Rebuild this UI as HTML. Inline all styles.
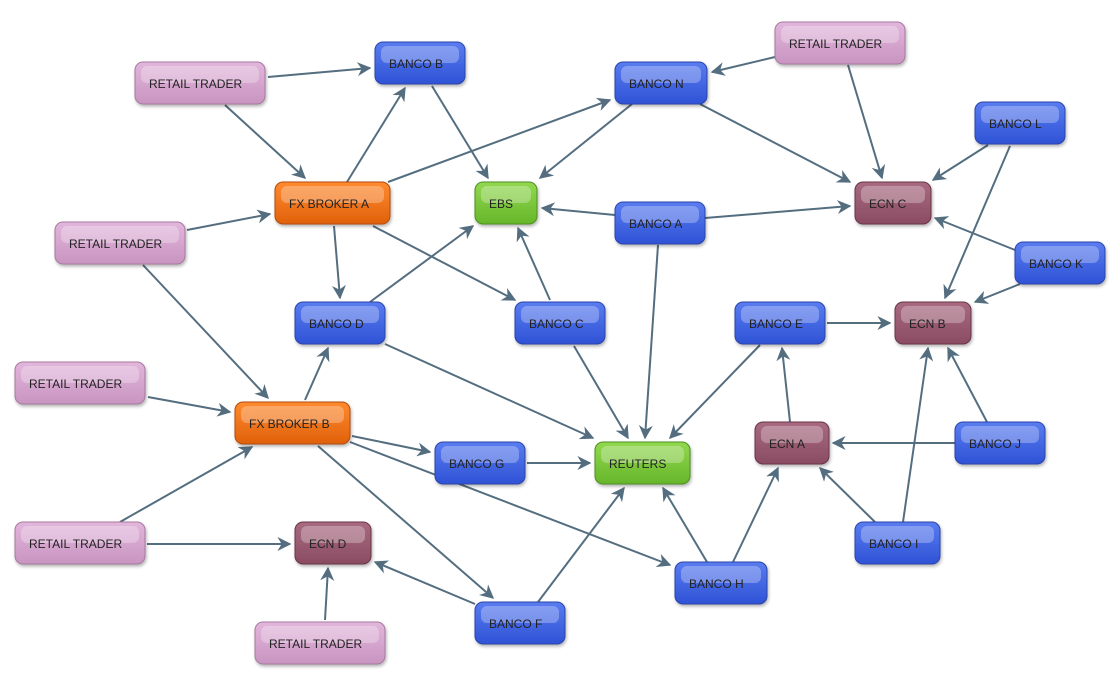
<!DOCTYPE html>
<html><head><meta charset="utf-8"><style>
html,body{margin:0;padding:0;background:#fff;}
svg{display:block;}
text{font-family:"Liberation Sans",sans-serif;font-size:12px;fill:#222;}
</style></head><body>
<svg width="1117" height="675" viewBox="0 0 1117 675" xmlns="http://www.w3.org/2000/svg">
<defs>
<linearGradient id="gb" x1="0" y1="0" x2="0" y2="1"><stop offset="0" stop-color="#5a7cf0"/><stop offset="1" stop-color="#2f52d6"/></linearGradient>
<linearGradient id="go" x1="0" y1="0" x2="0" y2="1"><stop offset="0" stop-color="#ff8a30"/><stop offset="1" stop-color="#e0600a"/></linearGradient>
<linearGradient id="gg" x1="0" y1="0" x2="0" y2="1"><stop offset="0" stop-color="#92d850"/><stop offset="1" stop-color="#66b62a"/></linearGradient>
<linearGradient id="gp" x1="0" y1="0" x2="0" y2="1"><stop offset="0" stop-color="#e2b6dc"/><stop offset="1" stop-color="#c894c0"/></linearGradient>
<linearGradient id="gm" x1="0" y1="0" x2="0" y2="1"><stop offset="0" stop-color="#a86a80"/><stop offset="1" stop-color="#8a4c62"/></linearGradient>
<marker id="ar" viewBox="0 0 10 10" refX="9" refY="5" markerWidth="7" markerHeight="7" orient="auto"><path d="M0,0 L10,5 L0,10 L3,5 z" fill="#546e80"/></marker>
<filter id="sh" x="-10%" y="-10%" width="130%" height="140%"><feDropShadow dx="1" dy="2" stdDeviation="1.5" flood-color="#000" flood-opacity="0.3"/></filter>
</defs>
<g stroke="#546e80" stroke-width="2" fill="none" marker-end="url(#ar)">
<line x1="268" y1="77" x2="370" y2="68"/>
<line x1="225" y1="105" x2="305" y2="178"/>
<line x1="347" y1="182" x2="405" y2="88"/>
<line x1="388" y1="182" x2="610" y2="100"/>
<line x1="432" y1="86" x2="488" y2="178"/>
<line x1="632" y1="104" x2="540" y2="178"/>
<line x1="700" y1="104" x2="850" y2="182"/>
<line x1="775" y1="57" x2="712" y2="72"/>
<line x1="848" y1="65" x2="882" y2="178"/>
<line x1="988" y1="145" x2="933" y2="180"/>
<line x1="1010" y1="146" x2="945" y2="298"/>
<line x1="615" y1="215" x2="542" y2="208"/>
<line x1="705" y1="218" x2="850" y2="206"/>
<line x1="658" y1="245" x2="645" y2="438"/>
<line x1="187" y1="230" x2="270" y2="214"/>
<line x1="143" y1="265" x2="268" y2="398"/>
<line x1="334" y1="226" x2="340" y2="298"/>
<line x1="373" y1="226" x2="515" y2="300"/>
<line x1="370" y1="302" x2="473" y2="226"/>
<line x1="550" y1="300" x2="518" y2="228"/>
<line x1="1015" y1="250" x2="935" y2="218"/>
<line x1="1020" y1="284" x2="975" y2="302"/>
<line x1="385" y1="344" x2="593" y2="438"/>
<line x1="574" y1="346" x2="628" y2="438"/>
<line x1="827" y1="323" x2="890" y2="323"/>
<line x1="760" y1="345" x2="670" y2="438"/>
<line x1="790" y1="422" x2="782" y2="348"/>
<line x1="987" y1="422" x2="948" y2="348"/>
<line x1="955" y1="443" x2="833" y2="443"/>
<line x1="148" y1="397" x2="230" y2="412"/>
<line x1="305" y1="400" x2="328" y2="348"/>
<line x1="352" y1="436" x2="430" y2="452"/>
<line x1="350" y1="442" x2="670" y2="565"/>
<line x1="318" y1="446" x2="493" y2="598"/>
<line x1="527" y1="463" x2="590" y2="463"/>
<line x1="120" y1="522" x2="252" y2="447"/>
<line x1="147" y1="544" x2="290" y2="544"/>
<line x1="325" y1="620" x2="328" y2="568"/>
<line x1="475" y1="604" x2="375" y2="562"/>
<line x1="538" y1="602" x2="624" y2="488"/>
<line x1="707" y1="562" x2="663" y2="488"/>
<line x1="733" y1="562" x2="778" y2="468"/>
<line x1="875" y1="522" x2="820" y2="468"/>
<line x1="903" y1="522" x2="928" y2="348"/>
</g>
<g id="nodes">
<!-- helper: each node = rect + gloss + text -->
<g filter="url(#sh)">
<rect x="135" y="62" width="130" height="42" rx="8" fill="url(#gp)" stroke="#a87aa0"/>
<rect x="775" y="22" width="130" height="42" rx="8" fill="url(#gp)" stroke="#a87aa0"/>
<rect x="55" y="222" width="130" height="42" rx="8" fill="url(#gp)" stroke="#a87aa0"/>
<rect x="15" y="362" width="130" height="42" rx="8" fill="url(#gp)" stroke="#a87aa0"/>
<rect x="15" y="522" width="130" height="42" rx="8" fill="url(#gp)" stroke="#a87aa0"/>
<rect x="255" y="622" width="130" height="42" rx="8" fill="url(#gp)" stroke="#a87aa0"/>
<rect x="375" y="42" width="90" height="42" rx="8" fill="url(#gb)" stroke="#2a44a8"/>
<rect x="615" y="62" width="92" height="42" rx="8" fill="url(#gb)" stroke="#2a44a8"/>
<rect x="975" y="102" width="90" height="42" rx="8" fill="url(#gb)" stroke="#2a44a8"/>
<rect x="615" y="202" width="90" height="42" rx="8" fill="url(#gb)" stroke="#2a44a8"/>
<rect x="1015" y="242" width="90" height="42" rx="8" fill="url(#gb)" stroke="#2a44a8"/>
<rect x="295" y="302" width="90" height="42" rx="8" fill="url(#gb)" stroke="#2a44a8"/>
<rect x="515" y="302" width="90" height="42" rx="8" fill="url(#gb)" stroke="#2a44a8"/>
<rect x="735" y="302" width="90" height="42" rx="8" fill="url(#gb)" stroke="#2a44a8"/>
<rect x="955" y="422" width="90" height="42" rx="8" fill="url(#gb)" stroke="#2a44a8"/>
<rect x="435" y="442" width="90" height="42" rx="8" fill="url(#gb)" stroke="#2a44a8"/>
<rect x="855" y="522" width="85" height="42" rx="8" fill="url(#gb)" stroke="#2a44a8"/>
<rect x="675" y="562" width="92" height="42" rx="8" fill="url(#gb)" stroke="#2a44a8"/>
<rect x="475" y="602" width="90" height="42" rx="8" fill="url(#gb)" stroke="#2a44a8"/>
<rect x="275" y="182" width="115" height="42" rx="8" fill="url(#go)" stroke="#b24c08"/>
<rect x="235" y="402" width="115" height="42" rx="8" fill="url(#go)" stroke="#b24c08"/>
<rect x="475" y="182" width="62" height="42" rx="8" fill="url(#gg)" stroke="#4e9020"/>
<rect x="595" y="442" width="95" height="42" rx="8" fill="url(#gg)" stroke="#4e9020"/>
<rect x="855" y="182" width="76" height="42" rx="8" fill="url(#gm)" stroke="#6a3448"/>
<rect x="895" y="302" width="76" height="42" rx="8" fill="url(#gm)" stroke="#6a3448"/>
<rect x="755" y="422" width="74" height="42" rx="8" fill="url(#gm)" stroke="#6a3448"/>
<rect x="295" y="522" width="76" height="42" rx="8" fill="url(#gm)" stroke="#6a3448"/>
</g>
<g fill="#fff" opacity="0.28">
<rect x="141" y="66" width="118" height="17" rx="6"/>
<rect x="781" y="26" width="118" height="17" rx="6"/>
<rect x="61" y="226" width="118" height="17" rx="6"/>
<rect x="21" y="366" width="118" height="17" rx="6"/>
<rect x="21" y="526" width="118" height="17" rx="6"/>
<rect x="261" y="626" width="118" height="17" rx="6"/>
<rect x="381" y="46" width="78" height="17" rx="6"/>
<rect x="621" y="66" width="80" height="17" rx="6"/>
<rect x="981" y="106" width="78" height="17" rx="6"/>
<rect x="621" y="206" width="78" height="17" rx="6"/>
<rect x="1021" y="246" width="78" height="17" rx="6"/>
<rect x="301" y="306" width="78" height="17" rx="6"/>
<rect x="521" y="306" width="78" height="17" rx="6"/>
<rect x="741" y="306" width="78" height="17" rx="6"/>
<rect x="961" y="426" width="78" height="17" rx="6"/>
<rect x="441" y="446" width="78" height="17" rx="6"/>
<rect x="861" y="526" width="73" height="17" rx="6"/>
<rect x="681" y="566" width="80" height="17" rx="6"/>
<rect x="481" y="606" width="78" height="17" rx="6"/>
<rect x="281" y="186" width="103" height="17" rx="6"/>
<rect x="241" y="406" width="103" height="17" rx="6"/>
<rect x="481" y="186" width="50" height="17" rx="6"/>
<rect x="601" y="446" width="83" height="17" rx="6"/>
<rect x="861" y="186" width="64" height="17" rx="6"/>
<rect x="901" y="306" width="64" height="17" rx="6"/>
<rect x="761" y="426" width="62" height="17" rx="6"/>
<rect x="301" y="526" width="64" height="17" rx="6"/>
</g>
<g>
<text x="149" y="88">RETAIL TRADER</text>
<text x="789" y="48">RETAIL TRADER</text>
<text x="69" y="248">RETAIL TRADER</text>
<text x="29" y="388">RETAIL TRADER</text>
<text x="29" y="548">RETAIL TRADER</text>
<text x="269" y="648">RETAIL TRADER</text>
<text x="389" y="68">BANCO B</text>
<text x="629" y="88">BANCO N</text>
<text x="989" y="128">BANCO L</text>
<text x="629" y="228">BANCO A</text>
<text x="1029" y="268">BANCO K</text>
<text x="309" y="328">BANCO D</text>
<text x="529" y="328">BANCO C</text>
<text x="749" y="328">BANCO E</text>
<text x="969" y="448">BANCO J</text>
<text x="449" y="468">BANCO G</text>
<text x="869" y="548">BANCO I</text>
<text x="689" y="588">BANCO H</text>
<text x="489" y="628">BANCO F</text>
<text x="289" y="208">FX BROKER A</text>
<text x="249" y="428">FX BROKER B</text>
<text x="489" y="208">EBS</text>
<text x="609" y="468">REUTERS</text>
<text x="869" y="208">ECN C</text>
<text x="909" y="328">ECN B</text>
<text x="769" y="448">ECN A</text>
<text x="309" y="548">ECN D</text>
</g>
</g>
</svg>
</body></html>
